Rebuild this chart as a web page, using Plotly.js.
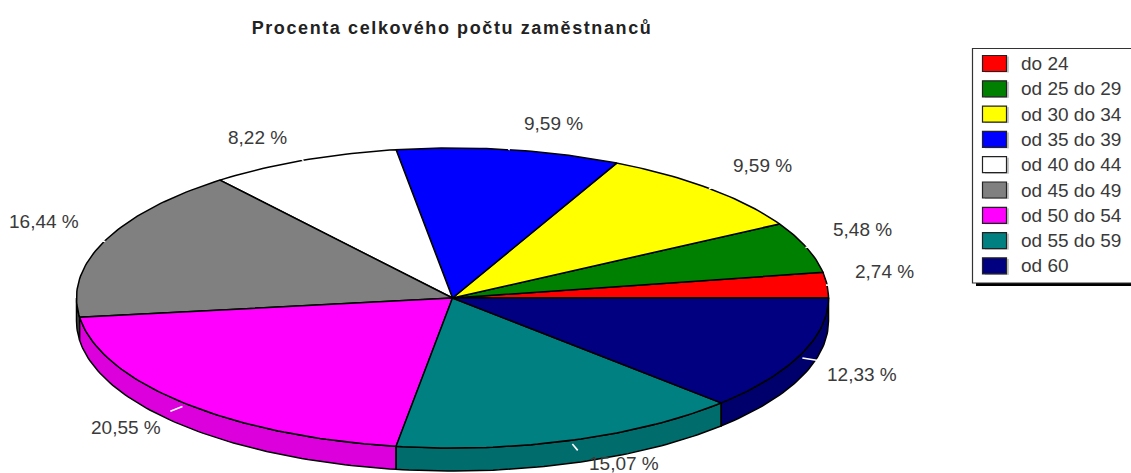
<!DOCTYPE html>
<html><head><meta charset="utf-8">
<script src="https://cdn.plot.ly/plotly-3.0.1.min.js"></script>
<style>html,body{margin:0;padding:0;background:#fff}
.gtitle{letter-spacing:1.6px}</style></head>
<body><div id="chart" style="width:1131px;height:473px"></div>
<script>
const categories = ["do 24","od 25 do 29","od 30 do 34","od 35 do 39","od 40 do 44","od 45 do 49","od 50 do 54","od 55 do 59","od 60"];
const values = [2.74,5.48,9.59,9.59,8.22,16.44,20.55,15.07,12.33];
const labels = ["2,74 %","5,48 %","9,59 %","9,59 %","8,22 %","16,44 %","20,55 %","15,07 %","12,33 %"];
const topColors = ["#ff0000","#008000","#ffff00","#0000ff","#ffffff","#808080","#ff00ff","#008080","#000080"];
const sideColors = ["#d90000","#006c00","#d9d900","#0000d9","#d9d9d9","#4a4a4a","#dc00dc","#006c6c","#00006c"];
const labelX = [884,862,762,553,257,44,126,624,862];
const labelY = [271,229,165,123,137,221,427,463.5,374];
const cx = 452.5, cy = 298, rx = 376, ry = 150, depth = 23;
const total = values.reduce((a,b)=>a+b,0);
const pt = (deg,r=1,dy=0)=>[cx+rx*r*Math.cos(deg*Math.PI/180), cy-ry*r*Math.sin(deg*Math.PI/180)+dy];
const arc = (a,b,dy=0)=>{const out=[],n=Math.max(2,Math.ceil(Math.abs(b-a)));for(let i=0;i<=n;i++)out.push(pt(a+(b-a)*i/n,1,dy));return out;};
const traces=[]; const poly=(p,fill,name,line)=>traces.push({type:'scatter',mode:'lines',x:p.map(q=>q[0]),y:p.map(q=>q[1]),fill:'toself',fillcolor:fill,line:{color:line||'#000',width:1.5},name:name,showlegend:false,hoverinfo:'name'});
let cum=0; const spans=values.map(v=>{const s=[cum,cum+v/total*360];cum=s[1];return s;});
spans.forEach((s,i)=>{const a=Math.max(s[0],180),b=s[1];
  if(b>a){poly(arc(a,b,0).concat(arc(b,a,depth)).concat([pt(a)]),sideColors[i],categories[i]+' (bok)');}});
spans.forEach((s,i)=>{poly([[cx,cy]].concat(arc(s[0],s[1])).concat([[cx,cy]]),topColors[i],categories[i]);});
// white leader ticks at each slice's middle
spans.forEach((s,i)=>{const m=(s[0]+s[1])/2,lo=m>180;const p=[pt(m,lo?1.005:0.997,lo?3:0),pt(m,lo?1.05:1.012,lo?3:0)];
  traces.push({type:'scatter',mode:'lines',x:p.map(q=>q[0]),y:p.map(q=>q[1]),line:{color:'#ffffff',width:1.6},showlegend:false,hoverinfo:'skip'});});
const annotations=labels.map((t,i)=>({x:labelX[i],y:labelY[i],xref:'x',yref:'y',text:t,showarrow:false,xanchor:'center',yanchor:'middle',font:{family:'"Liberation Sans",Arial,sans-serif',size:19,color:'#3a3a3a'}}));
const shapes=[
 {type:'rect',xref:'x',yref:'y',x0:976,x1:1140,y0:52,y1:286,fillcolor:'#000',line:{width:0}},
 {type:'rect',xref:'x',yref:'y',x0:972.5,x1:1140,y0:48.5,y1:283,fillcolor:'#fff',line:{color:'#333',width:1.2}}];
categories.forEach((c,i)=>{const yc=63.5+25.3*i;
 shapes.push({type:'rect',xref:'x',yref:'y',x0:985,x1:1009,y0:yc-7,y1:yc+9,fillcolor:'#c8c8c8',line:{width:0}});
 shapes.push({type:'rect',xref:'x',yref:'y',x0:982.5,x1:1006.5,y0:yc-8,y1:yc+8,fillcolor:topColors[i],line:{color:'#222',width:1.2}});
 annotations.push({x:1019,y:yc,xref:'x',yref:'y',text:c,showarrow:false,xanchor:'left',yanchor:'middle',font:{family:'"Liberation Sans",Arial,sans-serif',size:19,color:'#3a3a3a'}});
});
const layout={width:1131,height:473,margin:{l:0,r:0,t:0,b:0},paper_bgcolor:'#fff',plot_bgcolor:'#fff',showlegend:false,
 title:{text:'<b>Procenta celkového počtu zaměstnanců</b>',x:452/1131,xanchor:'center',y:1-28/473,yanchor:'middle',font:{family:'"Liberation Sans",Arial,sans-serif',size:18,color:'#222'}},
 xaxis:{range:[0,1131],visible:false,fixedrange:true},yaxis:{range:[473,0],visible:false,fixedrange:true},shapes,annotations};
Plotly.newPlot('chart',traces,layout,{displayModeBar:false,staticPlot:true});
</script></body></html>
